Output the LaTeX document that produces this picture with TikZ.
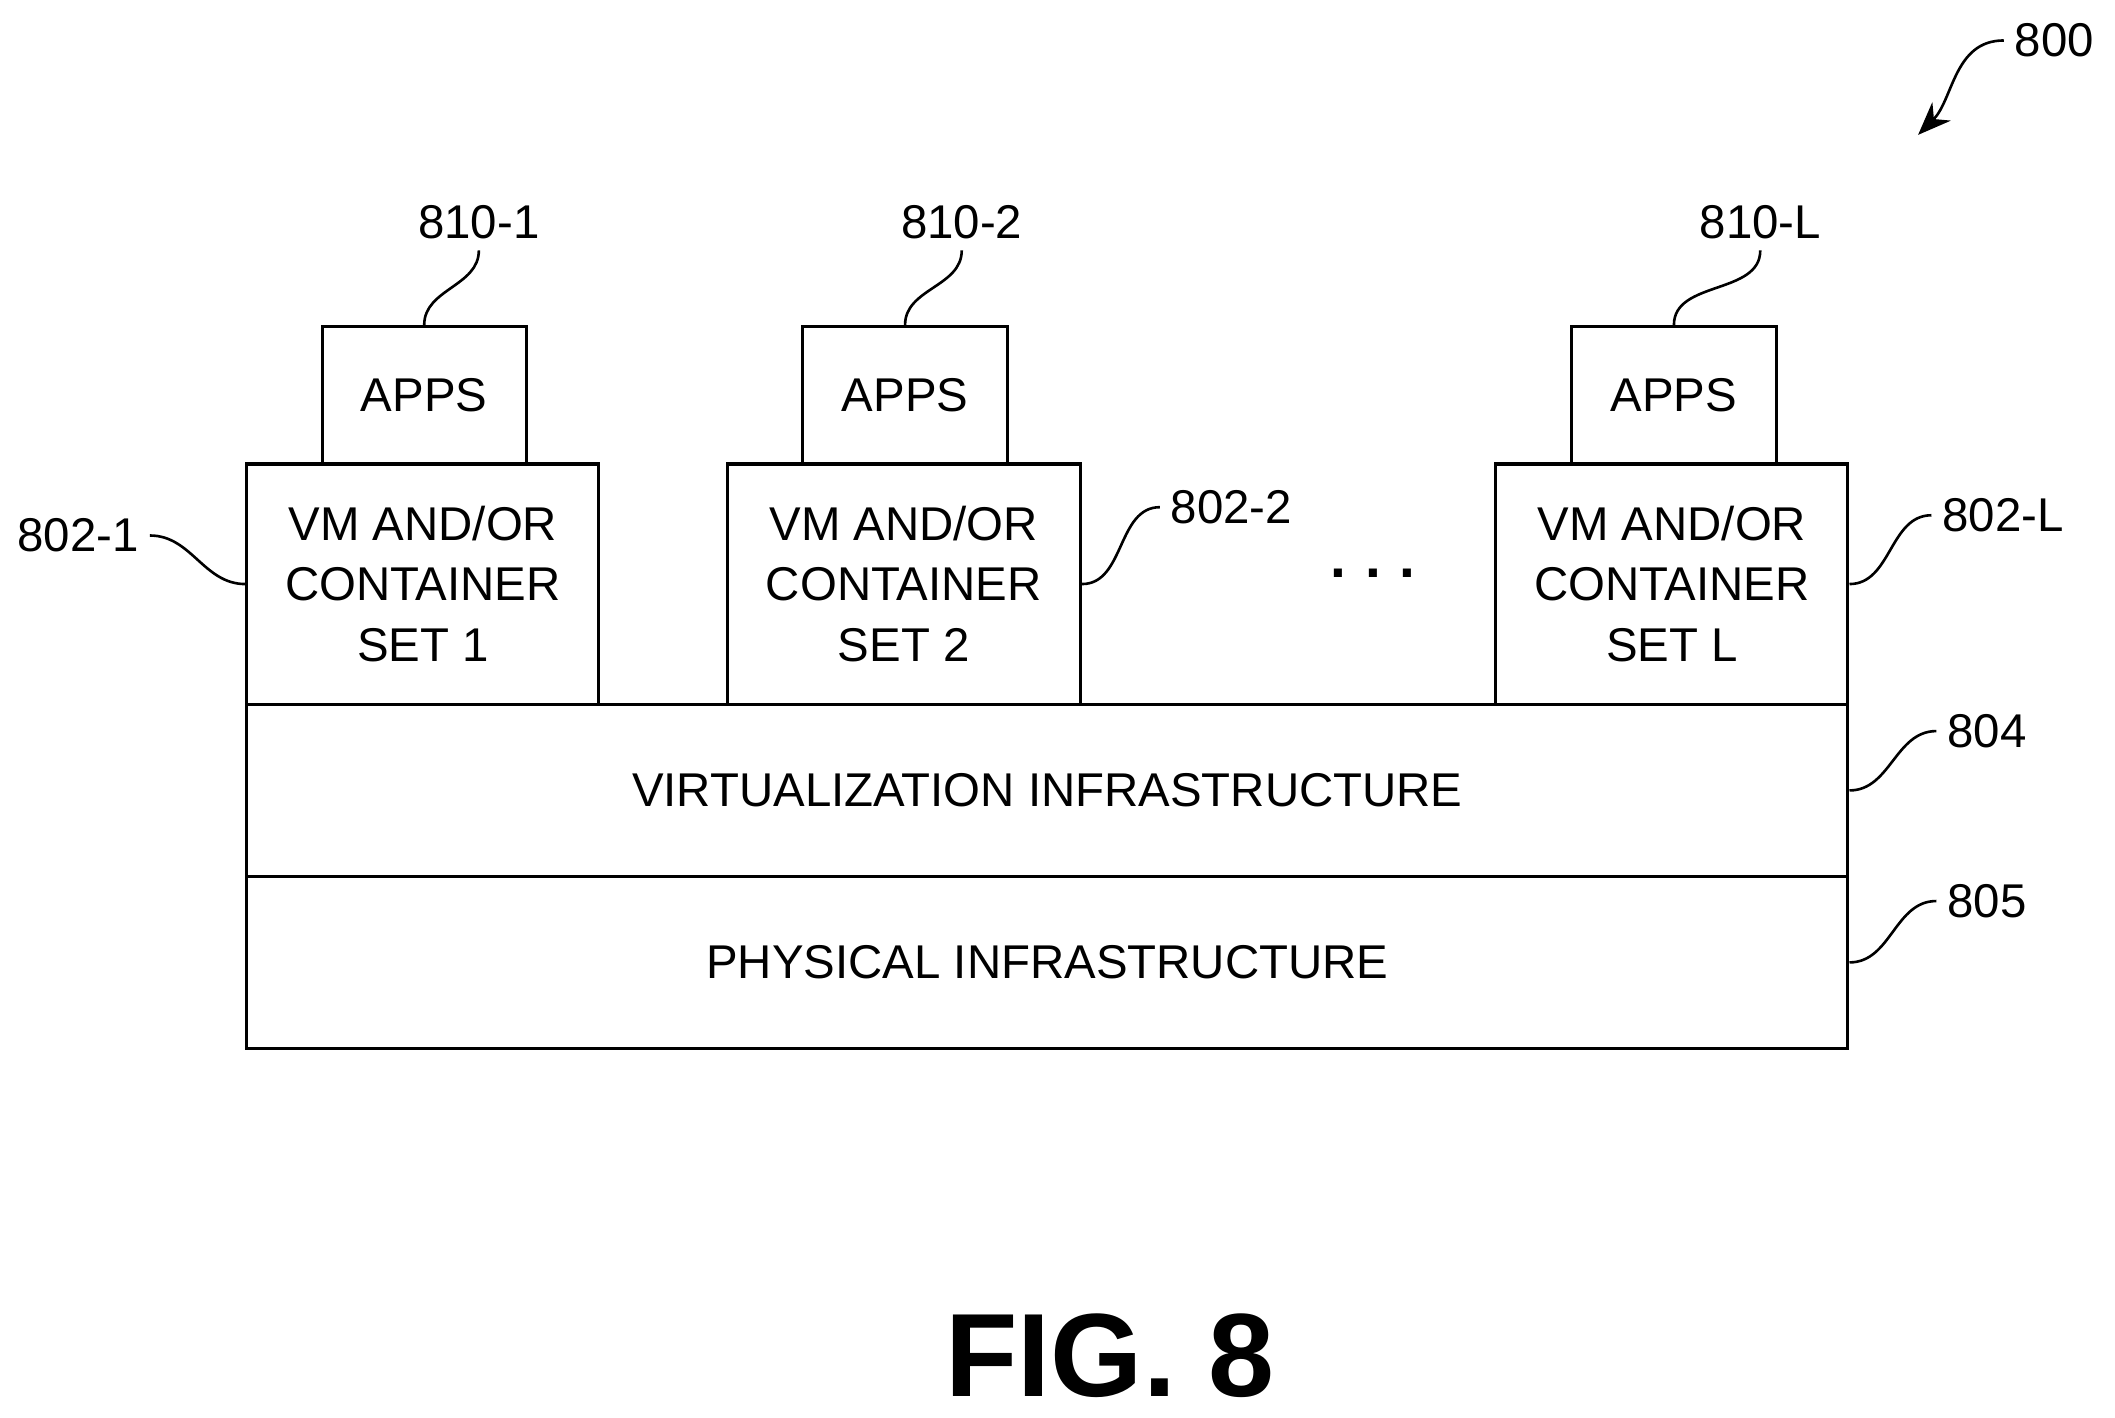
\documentclass[tikz,border=0pt]{standalone}
\usepackage{fontspec}
\setmainfont{Liberation Sans}
\usetikzlibrary{arrows.meta}
\begin{document}
\begin{tikzpicture}[x=0.02cm,y=-0.02cm,line width=1.3pt,
  box/.style={draw,rectangle,inner sep=0pt,align=center,font=\fontsize{20}{25.5}\selectfont},
  lbl/.style={inner sep=4pt,font=\fontsize{20}{24}\selectfont},
  lead/.style={line width=1.1pt}]
\useasboundingbox (0,0) rectangle (1568,1051);
% hosts
\node[box,minimum width=261*0.02cm,minimum height=178*0.02cm] (vm1) at (313.5,433) {VM AND/OR\\CONTAINER\\SET 1};
\node[box,minimum width=262*0.02cm,minimum height=178*0.02cm] (vm2) at (670,433) {VM AND/OR\\CONTAINER\\SET 2};
\node[box,minimum width=261*0.02cm,minimum height=178*0.02cm] (vmL) at (1239.5,433) {VM AND/OR\\CONTAINER\\SET L};
\node[box,minimum width=151*0.02cm,minimum height=102*0.02cm] (apps1) at (314.5,293) {APPS};
\node[box,minimum width=152*0.02cm,minimum height=102*0.02cm] (apps2) at (671,293) {APPS};
\node[box,minimum width=152*0.02cm,minimum height=102*0.02cm] (appsL) at (1241,293) {APPS};
\node[font=\fontsize{24}{24}\selectfont\bfseries] (dots) at (1018,425) {.\,\,.\,\,.};
% layers
\node[box,minimum width=1187*0.02cm,minimum height=128*0.02cm] (virt) at (776.5,586) {VIRTUALIZATION INFRASTRUCTURE};
\node[box,minimum width=1187*0.02cm,minimum height=127*0.02cm] (phys) at (776.5,713.5) {PHYSICAL INFRASTRUCTURE};
% reference numerals
\node[lbl] (l8101) at (355,165) {810-1};
\node[lbl] (l8102) at (713,165) {810-2};
\node[lbl] (l810L) at (1305,165) {810-L};
\node[lbl] (l8021) at (58,397) {802-1};
\node[lbl] (l8022) at (913,376) {802-2};
\node[lbl] (l802L) at (1485,382) {802-L};
\node[lbl] (l804) at (1473,542) {804};
\node[lbl] (l805) at (1473,668) {805};
\node[lbl] (l800) at (1523,30) {800};
\draw[lead] (apps1.north) to[out=90,in=-90] (l8101.south);
\draw[lead] (apps2.north) to[out=90,in=-90] (l8102.south);
\draw[lead] (appsL.north) to[out=90,in=-90] (l810L.south);
\draw[lead] (vm1.west) to[out=180,in=0] (l8021.east);
\draw[lead] (vm2.east) to[out=0,in=180] (l8022.west);
\draw[lead] (vmL.east) to[out=0,in=180] (l802L.west);
\draw[lead] (virt.east) to[out=0,in=180] (l804.west);
\draw[lead] (phys.east) to[out=0,in=180] (l805.west);
\coordinate (tip800) at (1422,100);
\draw[lead,-{Stealth[length=14pt,width=11pt]}] (l800.west) to[out=180,in=45] (tip800);
\node[font=\fontsize{50}{50}\selectfont\bfseries] (fig) at (823,1005) {FIG. 8};
\end{tikzpicture}
\end{document}
